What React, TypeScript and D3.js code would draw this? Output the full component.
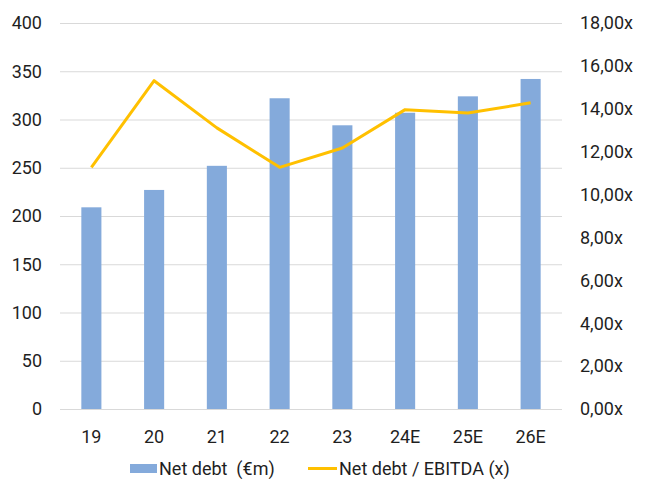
import React, { useEffect, useRef } from "react";
import * as d3 from "d3";

// values
const years = ["19", "20", "21", "22", "23", "24E", "25E", "26E"];
const netDebt = [209, 227, 252, 322, 294, 307, 324, 342];
const leverage = [11.27, 15.31, 13.11, 11.27, 12.17, 13.96, 13.8, 14.28];
const leftTicks = [0, 50, 100, 150, 200, 250, 300, 350, 400];
const rightTicks = [0, 2, 4, 6, 8, 10, 12, 14, 16, 18];

const BAR_COLOR = "#84aadb";
const LINE_COLOR = "#ffc000";
const TEXT_COLOR = "#1f1f1f";
const FONT = "Roboto, 'Noto Sans', sans-serif";

const App = () => {
  const svgRef = useRef<SVGSVGElement>(null);

  useEffect(() => {
    const width = 651;
    const height = 479;
    const plot = { left: 60, right: 562, top: 23, bottom: 409 };
    const svg = d3.select(svgRef.current);
    svg.selectAll("*").remove();

    const x = d3.scaleBand().domain(years).range([plot.left, plot.right]).paddingInner(0.68).paddingOuter(0.34);
    const yLeft = d3.scaleLinear().domain([0, 400]).range([plot.bottom, plot.top]);
    const yRight = d3.scaleLinear().domain([0, 18]).range([plot.bottom, plot.top]);

    svg.attr("width", width).attr("height", height);

    // gridlines
    svg
      .append("g")
      .selectAll("line")
      .data(leftTicks)
      .enter()
      .append("line")
      .attr("x1", plot.left)
      .attr("x2", plot.right)
      .attr("y1", (d) => yLeft(d) + 0.5)
      .attr("y2", (d) => yLeft(d) + 0.5)
      .attr("stroke", "#d9d9d9")
      .attr("stroke-width", 1);

    // bars
    svg
      .append("g")
      .selectAll("rect")
      .data(netDebt)
      .enter()
      .append("rect")
      .attr("x", (d, i) => x(years[i]))
      .attr("y", (d) => yLeft(d))
      .attr("width", x.bandwidth())
      .attr("height", (d) => yLeft(0) - yLeft(d))
      .attr("fill", BAR_COLOR);

    // line
    const line = d3
      .line<number>()
      .x((d, i) => x(years[i]) + x.bandwidth() / 2)
      .y((d) => yRight(d));

    svg
      .append("path")
      .datum(leverage)
      .attr("d", line)
      .attr("fill", "none")
      .attr("stroke", LINE_COLOR)
      .attr("stroke-width", 3)
      .attr("stroke-linejoin", "round");

    const text = (g, cls) =>
      g.attr("font-family", FONT).attr("font-size", 18).attr("fill", TEXT_COLOR).attr("class", cls);

    // left axis labels
    text(svg.append("g"), "y-left")
      .selectAll("text")
      .data(leftTicks)
      .enter()
      .append("text")
      .attr("x", 42)
      .attr("y", (d) => yLeft(d))
      .attr("dy", "0.35em")
      .attr("text-anchor", "end")
      .text((d) => d);

    // right axis labels
    const fmt = d3.format(".2f");
    text(svg.append("g"), "y-right")
      .selectAll("text")
      .data(rightTicks)
      .enter()
      .append("text")
      .attr("x", 580)
      .attr("y", (d) => yRight(d))
      .attr("dy", "0.35em")
      .text((d) => fmt(d).replace(".", ",") + "x");

    // category labels
    text(svg.append("g"), "x-labels")
      .selectAll("text")
      .data(years)
      .enter()
      .append("text")
      .attr("x", (d) => x(d) + x.bandwidth() / 2)
      .attr("y", 443)
      .attr("text-anchor", "middle")
      .text((d) => d);

    // legend
    const legend = text(svg.append("g"), "legend");
    legend.append("rect").attr("x", 130).attr("y", 464).attr("width", 27).attr("height", 9).attr("fill", BAR_COLOR);
    legend.append("text").attr("x", 159).attr("y", 475).attr("xml:space", "preserve").text("Net debt  (€m)");
    legend
      .append("line")
      .attr("x1", 308)
      .attr("x2", 337)
      .attr("y1", 468.5)
      .attr("y2", 468.5)
      .attr("stroke", LINE_COLOR)
      .attr("stroke-width", 3);
    legend.append("text").attr("x", 339).attr("y", 475).text("Net debt / EBITDA (x)");
  }, []);

  return (
    <div>
      <svg ref={svgRef} style={{ position: "absolute", left: 0, top: 0, background: "#fff" }}></svg>
    </div>
  );
};

export default App;
